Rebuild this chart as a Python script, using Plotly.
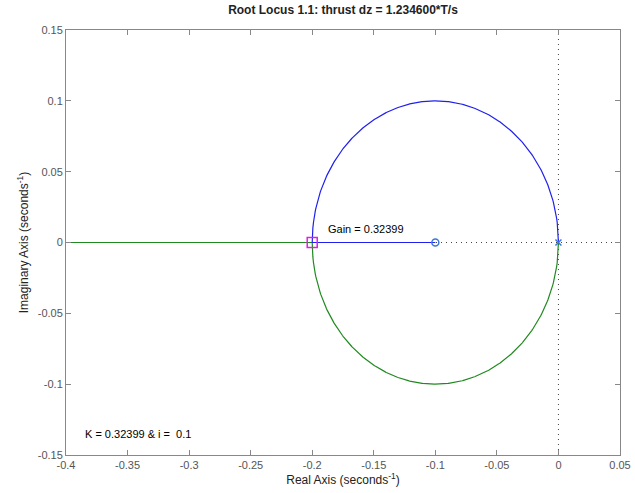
import numpy as np
import plotly.graph_objects as go

# Open-loop system: zero at -0.1, double pole at 0
ol_zeros = [-0.1]
ol_poles = [0.0, 0.0]
num = np.poly(ol_zeros)          # s + 0.1
den = np.poly(ol_poles)          # s^2
gains = np.concatenate([np.linspace(0, 0.4, 400), np.logspace(np.log10(0.4), 4, 400)])

selected_point = (-0.2, 0.0)
gain_label = "Gain = 0.32399"
k_label = "K = 0.32399 & i =  0.1"
title = "Root Locus 1.1: thrust dz = 1.234600*T/s"

blue_x, blue_y, green_x, green_y = [], [], [], []
for k in gains:
    poly = np.polyadd(den, k * num)
    r = np.roots(poly)
    if abs(r[0].imag) < 1e-9 and abs(r[1].imag) < 1e-9:
        r = sorted(r, key=lambda z: z.real, reverse=True)
    else:
        r = sorted(r, key=lambda z: z.imag, reverse=True)
    blue_x.append(r[0].real); blue_y.append(r[0].imag)
    green_x.append(max(r[1].real, -0.5)); green_y.append(r[1].imag)

fig = go.Figure()
dot = dict(color="#444444", width=1, dash="1px,4px")
fig.add_trace(go.Scatter(x=[-0.4, 0.05], y=[0, 0], mode="lines", line=dot, hoverinfo="skip"))
fig.add_trace(go.Scatter(x=[0, 0], y=[-0.15, 0.15], mode="lines", line=dot, hoverinfo="skip"))
fig.add_trace(go.Scatter(x=green_x, y=green_y, mode="lines", line=dict(color="#1f8a1f", width=1.2)))
fig.add_trace(go.Scatter(x=blue_x, y=blue_y, mode="lines", line=dict(color="#2020ee", width=1.2)))
# zero and pole markers
fig.add_trace(go.Scatter(x=ol_zeros, y=[0] * len(ol_zeros), mode="markers",
                         marker=dict(symbol="circle-open", size=7, color="#3a78d8", line=dict(width=1.5))))
fig.add_trace(go.Scatter(x=ol_poles[:1], y=[0], mode="markers",
                         marker=dict(symbol="x-thin-open", size=6, color="#3a78d8", line=dict(width=1.5))))
fig.add_trace(go.Scatter(x=[selected_point[0]], y=[selected_point[1]], mode="markers",
                         marker=dict(symbol="square-open", size=10, color="#e020e0", line=dict(width=1.5))))

fig.add_annotation(x=-0.189, y=0.0092, text=gain_label, showarrow=False, xanchor="left",
                   font=dict(size=11, color="black"))
fig.add_annotation(x=-0.386, y=-0.1355, text=k_label, showarrow=False, xanchor="left",
                   font=dict(size=11, color="black"))

axis_common = dict(showgrid=False, zeroline=False, showline=True, linecolor="#888888", linewidth=1,
                   mirror="ticks", ticks="inside", ticklen=5, tickcolor="#888888", automargin=False,
                   tickfont=dict(size=11, color="#555555"))
fig.update_xaxes(range=[-0.4, 0.05], tickvals=[-0.4, -0.35, -0.3, -0.25, -0.2, -0.15, -0.1, -0.05, 0, 0.05],
                 ticktext=["-0.4", "-0.35", "-0.3", "-0.25", "-0.2", "-0.15", "-0.1", "-0.05", "0", "0.05"],
                 title=dict(text="Real Axis (seconds<sup>-1</sup>)", font=dict(size=12, color="#222222"),
                            standoff=4), **axis_common)
fig.update_yaxes(range=[-0.15, 0.15], tickvals=[-0.15, -0.1, -0.05, 0, 0.05, 0.1, 0.15],
                 ticktext=["-0.15", "-0.1", "-0.05", "0", "0.05", "0.1", "0.15"],
                 title=dict(text="Imaginary Axis (seconds<sup>-1</sup>)", font=dict(size=12, color="#222222"),
                            standoff=6), **axis_common)
fig.update_layout(
    width=635, height=493,
    margin=dict(l=66, r=15, t=30, b=38),
    paper_bgcolor="white", plot_bgcolor="white",
    showlegend=False,
    font=dict(family="Liberation Sans, Arial, sans-serif"),
    title=dict(text="<b>" + title + "</b>", x=0.5, xref="paper", y=1, yref="container", yanchor="top",
               pad=dict(t=6), font=dict(size=12, color="#222222")),
)
fig.write_html("out.html")
